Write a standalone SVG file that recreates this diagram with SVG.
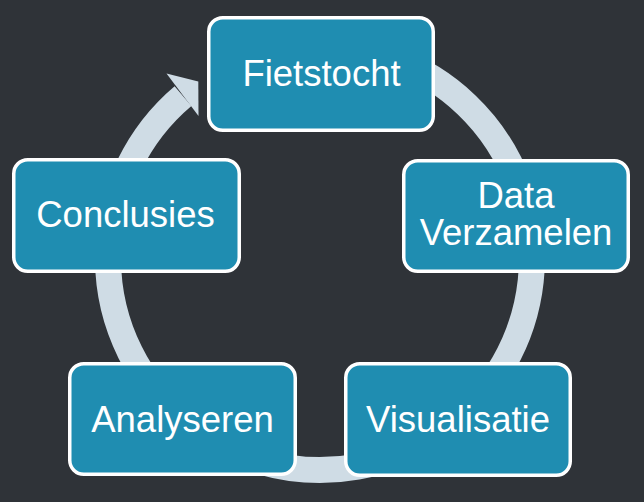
<svg xmlns="http://www.w3.org/2000/svg" width="644" height="502" viewBox="0 0 644 502">
  <style>
    .box { fill: #1f8db1; stroke: #ffffff; stroke-width: 3.5; }
    .lbl { fill: #ffffff; font-family: "Liberation Sans", Arial, sans-serif; font-size: 36.5px; text-anchor: middle; }
    .ring { fill: none; stroke: #cfdce5; stroke-width: 26; }
  </style>
  <rect x="0" y="0" width="644" height="502" fill="#2f3338"/>
  <g id="connectors">
    <path class="ring" d="M 392.5 58.8 A 212 212 0 1 1 183 96.2"/>
    <polygon points="166.5,73.5 198.3,81.5 198.5,116" fill="#cfdce5"/>
  </g>
  <g id="fietstocht">
    <rect class="box" x="208.75" y="17.75" width="224.5" height="112.5" rx="14"/>
    <text class="lbl" x="321.5" y="85.5">Fietstocht</text>
  </g>
  <g id="data-verzamelen">
    <rect class="box" x="403.75" y="160.75" width="224.5" height="110.5" rx="14"/>
    <text class="lbl" x="516" y="208">Data</text>
    <text class="lbl" x="516" y="245">Verzamelen</text>
  </g>
  <g id="visualisatie">
    <rect class="box" x="345.75" y="363.75" width="224.5" height="111.5" rx="14"/>
    <text class="lbl" x="458" y="431.5">Visualisatie</text>
  </g>
  <g id="analyseren">
    <rect class="box" x="69.75" y="363.75" width="225.5" height="110.5" rx="14"/>
    <text class="lbl" x="182.5" y="431.5">Analyseren</text>
  </g>
  <g id="conclusies">
    <rect class="box" x="13.75" y="159.75" width="225.5" height="111.5" rx="14"/>
    <text class="lbl" x="125.5" y="226.5">Conclusies</text>
  </g>
</svg>
